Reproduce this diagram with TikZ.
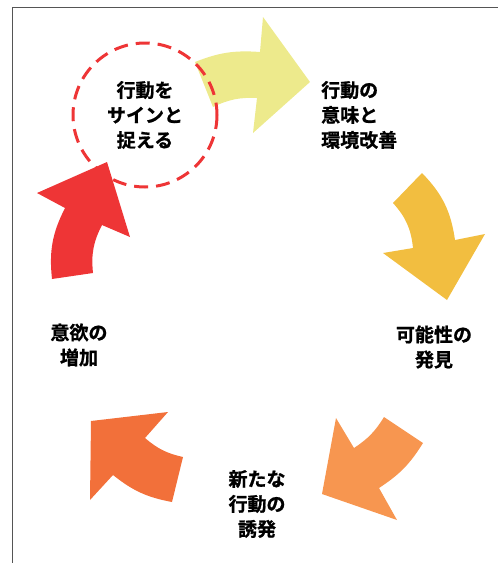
\documentclass[tikz,border=0pt]{standalone}
\usepackage{fontspec}
\newfontfamily\jpfont{Noto Sans CJK JP}[BoldFont={Noto Sans CJK JP Bold}, BoldFeatures={FakeBold=1}]
\usepackage{xcolor}
\definecolor{cyyellow}{RGB}{237,234,140}
\definecolor{cygold}{RGB}{242,190,64}
\definecolor{cyorange}{RGB}{247,150,80}
\definecolor{cyredorange}{RGB}{242,112,58}
\definecolor{cyred}{RGB}{238,53,54}
\definecolor{framegray}{RGB}{85,85,85}
\usepackage{tikz}
\usetikzlibrary{positioning}

\tikzset{
  steplabel/.style={font=\jpfont\bfseries\fontsize{19}{25}\selectfont, align=center, inner sep=0pt},
  cyclearrow/.style={fill=#1, draw=none}
}

\begin{document}
\begin{tikzpicture}[x=1pt, y=-1pt]
  \useasboundingbox (0,0) rectangle (498,563);
  % Frame
  \draw[framegray, line width=1.3pt] (12.5,563) -- (12.5,7.5) -- (498,7.5);

  % --- Cycle arrows ---
  % Arrow 1: top
  \path[cyclearrow=cyyellow] (195,62) to[bend left=13] (260,52) -- (263,17) -- (310,82)
    -- (253,133) -- (257,98) to[bend right=14] (213,107) -- cycle;
  % Arrow 2: right
  \path[cyclearrow=cygold] (422,173) to[bend left=18] (455,240) -- (485,234) -- (447,300)
    -- (383,253) -- (413,248) to[bend right=18] (393,203) -- cycle;
  % Arrow 3: bottom right
  \path[cyclearrow=cyorange] (423,443) to[bend left=12.5] (379,488) -- (397,520) -- (322,494)
    -- (336,418) -- (354,448) to[bend right=12.5] (384,417) -- cycle;
  % Arrow 4: bottom left
  \path[cyclearrow=cyredorange] (172,502) to[bend left=14] (113,475) -- (90,500) -- (91,421)
    -- (168,412) -- (145,438) to[bend right=14] (183,457) -- cycle;
  % Arrow 5: left
  \path[cyclearrow=cyred] (52,279) to[bend left=16.5] (65,208) -- (37,193) -- (107,162)
    -- (130,237) -- (102,225) to[bend right=16.5] (93,273) -- cycle;

  % --- Labels ---
  \node[steplabel] (sign) at (145,115) {行動を\\サインと\\捉える};
  \node[steplabel, align=left, anchor=west] (meaning) at (321,115) {行動の\\意味と\\環境改善};
  \node[steplabel] (chance) at (434,347) {可能性の\\発見};
  \node[steplabel] (induce) at (257,504) {新たな\\行動の\\誘発};
  \node[steplabel] (will) at (79,345) {意欲の\\増加};

  % Dashed ring
  \draw[cyred, line width=3pt, dash pattern=on 14pt off 8pt] (sign.center) circle[radius=72];
\end{tikzpicture}
\end{document}
